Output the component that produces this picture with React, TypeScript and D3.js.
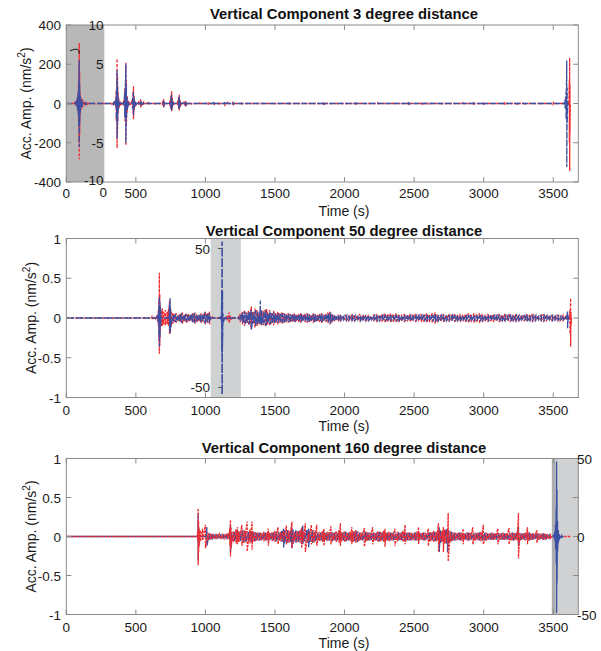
import React from "react";
import * as d3 from "d3";

type S = [number, number, number];
type N = { t0: number; dt: number; a: number[] };

// ---------- shared axis data ----------
const X_TICKS = [0, 500, 1000, 1500, 2000, 2500, 3000, 3500];
const X_MAX = 3680;
const X_LABEL = "Time (s)";
const Y_LABEL = "Acc. Amp. (nm/s";

// ---------- panel 1 : 3 degree ----------
const P1_TITLE = "Vertical Component 3 degree distance";
const P1_Y_DOMAIN: [number, number] = [-400, 400];
const P1_Y_TICKS = [-400, -200, 0, 200, 400];
const P1_INSET_RANGE: [number, number] = [0, 273];
const P1_INSET_DOMAIN: [number, number] = [-10, 10];
const P1_INSET_TICKS = [10, 5, -5, -10];
const P1_RED_SPIKES: S[] = [
  [275, 0, 0], [330, 3, -3], [345, 6, -6], [355, 20, -20], [360, 70, -90], [365, 228, -227], [368, 140, -150],
  [372, 60, -50], [378, 25, -25], [388, 10, -10], [400, 6, -6], [415, 15, -15], [422, 80, -90], [428, 208, -214],
  [432, 120, -110], [437, 40, -45], [445, 15, -15], [460, 8, -8], [475, 20, -20], [480, 60, -55], [483, 88, -80],
  [487, 40, -35], [495, 12, -12], [520, 8, -8], [535, 20, -20], [540, 10, -10], [555, 6, -6], [590, 8, -8],
  [640, 5, -5], [690, 10, -10], [700, 22, -20], [705, 10, -10], [745, 15, -15], [752, 40, -30], [757, 62, -40],
  [762, 30, -25], [770, 10, -10], [800, 15, -12], [808, 35, -30], [812, 45, -35], [817, 20, -20], [825, 8, -8],
  [850, 10, -10], [858, 15, -15], [865, 6, -6], [900, 5, -5], [960, 5, -5], [1020, 6, -6], [1060, 8, -8],
  [1100, 5, -5], [1140, 9, -9], [1160, 5, -5], [1200, 9, -9], [1260, 5, -5], [1320, 4, -4], [1400, 4, -4],
  [1500, 4, -4], [1600, 5, -5], [1700, 4, -4], [1850, 8, -8], [1950, 4, -4], [2080, 6, -6], [2240, 6, -6],
  [2350, 4, -4], [2460, 8, -8], [2560, 6, -6], [2600, 5, -5], [2700, 5, -5], [2850, 6, -6], [2930, 6, -6],
  [3000, 5, -5], [3150, 6, -6], [3240, 8, -8], [3300, 5, -5], [3400, 4, -4], [3500, 3, -3], [3600, 3, -3],
  [3612, 10, -10], [3616, 120, -200], [3618, 233, -344], [3620, 100, -150], [3623, 0, 0],
];
const P1_BLUE_SPIKES: S[] = [
  [275, 0, 0], [340, 3, -3], [355, 15, -15], [360, 60, -80], [365, 170, -180], [369, 90, -100], [374, 30, -30],
  [385, 8, -8], [415, 10, -10], [420, 60, -70], [428, 200, -200], [432, 90, -80], [438, 30, -30], [448, 10, -10],
  [478, 30, -30], [483, 60, -60], [488, 25, -25], [500, 8, -8], [535, 12, -12], [545, 5, -5], [700, 15, -15],
  [710, 4, -4], [752, 30, -25], [757, 45, -35], [762, 20, -20], [808, 25, -25], [812, 35, -30], [817, 15, -15],
  [858, 12, -12], [870, 4, -4], [1060, 6, -6], [1140, 6, -6], [1200, 6, -6], [1850, 6, -6], [2460, 6, -6],
  [3000, 5, -5], [3575, 5, -5], [3585, 20, -25], [3592, 60, -80], [3597, 219, -324], [3600, 80, -100],
  [3604, 10, -10], [3608, 0, 0],
];
const P1_INSET_RED: S[] = [
  [0, 0, 0], [60, 0.2, -0.2], [75, 0.5, -0.5], [83, 1, -1], [88, 2.5, -2.5], [91, 5, -5], [93, 7.7, -7.1],
  [96, 4, -4], [99, 1.5, -1.5], [106, 0.8, -0.8], [118, 0.5, -0.5], [132, 0.3, -0.3], [150, 0.2, -0.2],
  [180, 0, 0], [273, 0, 0],
];
const P1_INSET_BLUE: S[] = [
  [0, 0, 0], [70, 0.3, -0.3], [80, 0.8, -0.8], [86, 1.5, -1.5], [90, 3, -3], [93, 5.5, -5.5], [96, 2.5, -2.5],
  [101, 1, -1], [112, 0.5, -0.5], [140, 0.2, -0.2], [273, 0, 0],
];

// ---------- panel 2 : 50 degree ----------
const P2_TITLE = "Vertical Component 50 degree distance";
const P2_Y_DOMAIN: [number, number] = [-1, 1];
const P2_Y_TICKS = [-1, -0.5, 0, 0.5, 1];
const P2_INSET_RANGE: [number, number] = [1038, 1255];
const P2_INSET_DOMAIN: [number, number] = [-57.2, 57.2];
const P2_INSET_TICKS = [50, -50];
const P2_RED_SPIKES: S[] = [
  [0, 0, 0], [600, 0, 0], [615, 0.02, -0.02], [640, 0.02, -0.02], [655, 0.04, -0.04], [662, 0.1, -0.1],
  [666, 0.25, -0.3], [669, 0.57, -0.45], [672, 0.3, -0.35], [676, 0.15, -0.15], [682, 0.1, -0.1],
  [690, 0.12, -0.1], [700, 0.08, -0.08], [712, 0.1, -0.09], [725, 0.08, -0.08], [735, 0.12, -0.1],
  [742, 0.22, -0.2], [748, 0.15, -0.18], [755, 0.09, -0.09], [765, 0.07, -0.07], [1035, 0.02, -0.02],
  [1050, 0.01, -0.01], [1100, 0.01, -0.01], [1160, 0.03, -0.03], [1171, 0.07, -0.07], [1178, 0.03, -0.03],
  [1200, 0.01, -0.01], [1240, 0.02, -0.02], [1330, 0.15, -0.14], [1440, 0.12, -0.08], [3595, 0.02, -0.02],
  [3615, 0.02, -0.02], [3620, 0.1, -0.2], [3625, 0.25, -0.36], [3628, 0.08, -0.1], [3632, 0, 0],
];
const P2_RED_NOISE: N[] = [
  { t0: 775, dt: 15, a: [0.05, 0.06, 0.04, 0.05, 0.07, 0.04, 0.06, 0.05, 0.04, 0.06, 0.07, 0.05, 0.04, 0.06, 0.05, 0.08, 0.06, 0.08] },
  {
    t0: 1250, dt: 15, a: [
      0.05, 0.08, 0.1, 0.07, 0.09, 0.11, 0.08, 0.12, 0.1, 0.08, 0.1, 0.09, 0.11, 0.08, 0.1, 0.07, 0.09, 0.06, 0.08, 0.06,
      0.07, 0.06, 0.05, 0.06, 0.05, 0.05, 0.06, 0.04, 0.05, 0.06, 0.04, 0.05, 0.06, 0.05, 0.04, 0.06, 0.05, 0.04, 0.05, 0.06,
      0.04, 0.05, 0.07, 0.08, 0.05, 0.04, 0.03, 0.04,
    ],
  },
  {
    t0: 1970, dt: 20, a: [
      0.04, 0.03, 0.04, 0.03, 0.03, 0.04, 0.03, 0.05, 0.03, 0.04, 0.04, 0.03, 0.04, 0.05, 0.04, 0.05, 0.06, 0.05, 0.06, 0.05,
      0.06, 0.05, 0.04, 0.05, 0.04, 0.05, 0.04, 0.05, 0.04, 0.05, 0.05, 0.06, 0.05, 0.06, 0.07, 0.05, 0.04, 0.05, 0.04, 0.05,
      0.04, 0.05, 0.04, 0.05, 0.04, 0.05, 0.06, 0.05, 0.06, 0.05, 0.06, 0.05, 0.04, 0.05, 0.04, 0.05, 0.04, 0.05, 0.04, 0.05,
      0.04, 0.05, 0.04, 0.05, 0.04, 0.03, 0.04, 0.05, 0.04, 0.05, 0.04, 0.03, 0.04, 0.05, 0.04, 0.03, 0.04, 0.03, 0.04, 0.03,
      0.03, 0.02,
    ],
  },
];
const P2_BLUE_SPIKES: S[] = [
  [0, 0, 0], [650, 0, 0], [660, 0.05, -0.05], [666, 0.15, -0.2], [669, 0.26, -0.36], [673, 0.2, -0.25],
  [678, 0.12, -0.1], [742, 0.18, -0.15], [746, 0.25, -0.2], [750, 0.12, -0.12], [1035, 0.02, -0.02],
  [1100, 0.01, -0.01], [1150, 0.02, -0.02], [1240, 0.02, -0.02], [1330, 0.1, -0.15], [1395, 0.22, -0.08],
  [3597, 0.02, -0.02], [3603, 0.09, -0.13], [3607, 0.03, -0.03], [3612, 0, 0],
];
const P2_BLUE_NOISE: N[] = [
  { t0: 770, dt: 15, a: [0.04, 0.05, 0.03, 0.04, 0.06, 0.03, 0.05, 0.04, 0.03, 0.05, 0.06, 0.04, 0.03, 0.05, 0.04, 0.07, 0.05, 0.06] },
  {
    t0: 1255, dt: 15, a: [
      0.04, 0.07, 0.08, 0.06, 0.08, 0.09, 0.07, 0.1, 0.08, 0.06, 0.09, 0.07, 0.1, 0.06, 0.08, 0.06, 0.07, 0.05, 0.06, 0.05,
      0.06, 0.05, 0.04, 0.05, 0.04, 0.04, 0.05, 0.03, 0.04, 0.05, 0.03, 0.04, 0.05, 0.04, 0.03, 0.05, 0.04, 0.03, 0.04, 0.05,
      0.03, 0.04, 0.06, 0.07, 0.04, 0.03, 0.02, 0.03,
    ],
  },
  {
    t0: 1975, dt: 20, a: [
      0.03, 0.02, 0.03, 0.02, 0.03, 0.03, 0.02, 0.03, 0.02, 0.03, 0.03, 0.02, 0.03, 0.04, 0.03, 0.03, 0.04, 0.03, 0.04, 0.03,
      0.04, 0.03, 0.03, 0.04, 0.03, 0.03, 0.02, 0.03, 0.03, 0.03, 0.04, 0.04, 0.03, 0.04, 0.05, 0.03, 0.03, 0.04, 0.03, 0.03,
      0.03, 0.04, 0.03, 0.03, 0.03, 0.04, 0.04, 0.03, 0.04, 0.03, 0.04, 0.03, 0.03, 0.04, 0.03, 0.03, 0.03, 0.04, 0.03, 0.03,
      0.03, 0.04, 0.03, 0.03, 0.03, 0.02, 0.03, 0.04, 0.03, 0.03, 0.03, 0.02, 0.03, 0.03, 0.03, 0.02, 0.03, 0.02, 0.03, 0.02,
      0.02,
    ],
  },
];
const P2_INSET_BLUE: S[] = [
  [1100, 0, 0], [1112, 1, -1], [1116, 3, -3], [1118, 20, -25], [1120, 55, -55], [1122, 20, -20], [1126, 3, -3],
  [1140, 0, 0],
];

// ---------- panel 3 : 160 degree ----------
const P3_TITLE = "Vertical Component 160 degree distance";
const P3_Y_DOMAIN: [number, number] = [-1, 1];
const P3_Y_TICKS = [-1, -0.5, 0, 0.5, 1];
const P3_INSET_RANGE: [number, number] = [3490, 3680];
const P3_INSET_DOMAIN: [number, number] = [-50, 50];
const P3_INSET_TICKS = [50, 0, -50];
const P3_INSET_MINOR = [25, -25];
const P3_RED_SPIKES: S[] = [
  [0, 0, 0], [940, 0, 0], [945, 0.05, -0.05], [948, 0.36, -0.37], [951, 0.2, -0.2], [956, 0.1, -0.12],
  [965, 0.08, -0.06], [980, 0.1, -0.05], [1176, 0.1, -0.12], [1180, 0.21, -0.26], [1184, 0.12, -0.15],
  [1230, 0.12, -0.1], [1262, 0.15, -0.12], [1300, 0.19, -0.19], [1335, 0.19, -0.17], [1452, 0.1, -0.12],
  [1522, 0.12, -0.1], [1582, 0.14, -0.1], [1622, 0.19, -0.15], [1692, 0.12, -0.15], [1718, 0.17, -0.2],
  [1762, 0.15, -0.1], [1800, 0.15, -0.12], [1852, 0.1, -0.12], [1902, 0.13, -0.1], [1970, 0.17, -0.12],
  [2052, 0.12, -0.1], [2142, 0.11, -0.13], [2202, 0.12, -0.1], [2290, 0.1, -0.13], [2362, 0.1, -0.12],
  [2435, 0.15, -0.1], [2532, 0.12, -0.1], [2602, 0.1, -0.12], [2675, 0.17, -0.2], [2710, 0.12, -0.2],
  [2745, 0.3, -0.32], [2852, 0.1, -0.1], [2922, 0.12, -0.1], [2997, 0.15, -0.1], [3102, 0.1, -0.1],
  [3182, 0.11, -0.1], [3250, 0.3, -0.28], [3315, 0.12, -0.1], [3382, 0.08, -0.08], [3490, 0.01, -0.01],
  [3530, 0, 0], [3625, 0, 0],
];
const P3_RED_NOISE: N[] = [
  {
    t0: 1000, dt: 20, a: [
      0.15, 0.05, 0.04, 0.03, 0.02, 0.03, 0.02, 0.02, 0.04, 0.06,
      0.07, 0.09, 0.07, 0.1, 0.08, 0.07, 0.09, 0.07, 0.06, 0.05,
      0.05, 0.06, 0.05, 0.05, 0.06, 0.07, 0.05, 0.06, 0.07, 0.06,
      0.08, 0.07, 0.06, 0.07, 0.08, 0.07, 0.08, 0.06, 0.07, 0.08,
      0.07, 0.06, 0.07, 0.05, 0.06, 0.07, 0.05, 0.07, 0.08, 0.06,
      0.07, 0.05, 0.06, 0.07, 0.08, 0.06, 0.05, 0.07, 0.06, 0.05,
      0.06, 0.05, 0.07, 0.06, 0.07, 0.05, 0.06, 0.05, 0.05, 0.06,
      0.05, 0.07, 0.06, 0.05, 0.05, 0.05, 0.06, 0.05, 0.05, 0.05,
      0.05, 0.06, 0.07, 0.06, 0.08, 0.07, 0.09, 0.08, 0.07, 0.05,
      0.05, 0.05, 0.05, 0.04, 0.05, 0.05, 0.04, 0.05, 0.05, 0.06,
      0.05, 0.05, 0.04, 0.05, 0.04, 0.05, 0.04, 0.05, 0.04, 0.05,
      0.05, 0.05, 0.05, 0.05, 0.04, 0.05, 0.05, 0.04, 0.04, 0.04,
      0.04, 0.04, 0.04, 0.03, 0.02,
    ],
  },
];
const P3_BLUE_SPIKES: S[] = [
  [0, 0, 0], [942, 0, 0], [945, 0.05, -0.05], [948, 0.3, -0.3], [952, 0.12, -0.12], [1180, 0.15, -0.2],
  [1562, 0.1, -0.14], [1620, 0.12, -0.15], [1700, 0.14, -0.1], [1742, 0.1, -0.14], [2680, 0.12, -0.2],
  [2740, 0.1, -0.2], [3250, 0.12, -0.12], [3490, 0, 0],
];
const P3_BLUE_NOISE: N[] = [
  {
    t0: 1010, dt: 20, a: [
      0.12, 0.04, 0.03, 0.02, 0.02, 0.02, 0.02, 0.02, 0.03, 0.05,
      0.06, 0.07, 0.06, 0.08, 0.07, 0.06, 0.07, 0.06, 0.05, 0.05,
      0.04, 0.05, 0.05, 0.04, 0.05, 0.06, 0.05, 0.07, 0.08, 0.08,
      0.07, 0.09, 0.08, 0.07, 0.09, 0.06, 0.08, 0.07, 0.08, 0.06,
      0.05, 0.05, 0.06, 0.05, 0.05, 0.06, 0.05, 0.05, 0.06, 0.05,
      0.06, 0.05, 0.05, 0.06, 0.07, 0.05, 0.05, 0.06, 0.05, 0.05,
      0.05, 0.05, 0.06, 0.05, 0.06, 0.05, 0.05, 0.05, 0.04, 0.05,
      0.05, 0.06, 0.05, 0.05, 0.04, 0.05, 0.05, 0.04, 0.05, 0.04,
      0.05, 0.05, 0.06, 0.05, 0.08, 0.07, 0.09, 0.08, 0.06, 0.05,
      0.04, 0.05, 0.04, 0.04, 0.05, 0.04, 0.04, 0.04, 0.05, 0.05,
      0.05, 0.04, 0.04, 0.04, 0.04, 0.04, 0.04, 0.04, 0.04, 0.04,
      0.05, 0.04, 0.05, 0.04, 0.04, 0.04, 0.05, 0.04, 0.03, 0.04,
      0.03, 0.04, 0.03, 0.02, 0.02,
    ],
  },
];
const P3_INSET_BLUE: S[] = [
  [3495, 0, 0], [3505, 1, -1], [3512, 3, -3], [3517, 8, -8], [3521, 18, -18], [3524, 48, -49], [3527, 30, -30],
  [3531, 10, -10], [3537, 4, -4], [3545, 1.5, -1.5], [3560, 0.5, -0.5], [3575, 0, 0],
];

// ---------- helpers ----------
function buildTrace(spikes: S[], noise: N[] = []): S[] {
  const fromNoise: S[] = [];
  noise.forEach((seg) =>
    seg.a.forEach((v, i) => {
      const t = seg.t0 + i * seg.dt;
      fromNoise.push([t, v, -v]);
    })
  );
  const filtered = fromNoise.filter((n) => !spikes.some((s) => Math.abs(s[0] - n[0]) < 5));
  return [...spikes, ...filtered].sort((a, b) => a[0] - b[0]);
}

// zig-zag through each sample's extremes; return to the zero line across wide gaps
function tracePoints(tr: S[]): [number, number][] {
  const out: [number, number][] = [];
  tr.forEach(([t, hi, lo], i) => {
    if (hi === lo) out.push([t, hi]);
    else {
      out.push([t, hi]);
      out.push([t, lo]);
    }
    const nx = tr[i + 1];
    if (nx && nx[0] - t > 25 && (hi !== 0 || lo !== 0 || nx[1] !== 0)) {
      out.push([t + 3, 0]);
      out.push([nx[0] - 3, 0]);
    }
  });
  return out;
}

const RED = "#ef2b30";
const BLUE = "#3b4fa3";
const FRAME = "#8a8a8a";
const FONT = "'Liberation Sans', Arial, Helvetica, sans-serif";

type PanelCfg = {
  title: string;
  top: number;
  bottom: number;
  titleY: number;
  tickY: number;
  labelY: number;
  ylabelX: number;
  yDom: [number, number];
  yTicks: number[];
  red: S[];
  blue: S[];
  redDash: string;
  blueDash?: string;
  redOnTop: boolean;
  insetRange: [number, number];
  insetDom: [number, number];
  insetFill: string;
  insetRed?: S[];
  insetBlue?: S[];
  insetBlueDash?: string;
  kind: number;
};

const X0 = 66.3;
const X1 = 578.3;
const CX = 344;

function Panel({ cfg, id }: { cfg: PanelCfg; id: string }) {
  const x = d3.scaleLinear().domain([0, X_MAX]).range([X0, X1]);
  const y = d3.scaleLinear().domain(cfg.yDom).range([cfg.bottom, cfg.top]);
  const yi = d3.scaleLinear().domain(cfg.insetDom).range([cfg.bottom, cfg.top]);
  const mkLine = (ys: d3.ScaleLinear<number, number>) =>
    d3
      .line<[number, number]>()
      .x((d) => x(d[0]))
      .y((d) => ys(d[1]));
  const redPath = mkLine(y)(tracePoints(cfg.red)) || "";
  const bluePath = mkLine(y)(tracePoints(cfg.blue)) || "";
  const ix0 = x(cfg.insetRange[0]);
  const ix1 = x(cfg.insetRange[1]);
  const fmt = (v: number) => (v < 0 ? "-" + String(Math.abs(v)) : String(v));

  const redEl = <path d={redPath} fill="none" stroke={RED} strokeWidth={1.3} strokeDasharray={cfg.redDash} />;
  const blueEl = <path d={bluePath} fill="none" stroke={BLUE} strokeWidth={1.3} strokeDasharray={cfg.blueDash} />;

  return (
    <g>
      <defs>
        <clipPath id={id}>
          <rect x={X0} y={cfg.top} width={X1 - X0} height={cfg.bottom - cfg.top} />
        </clipPath>
      </defs>
      <rect x={ix0} y={cfg.top} width={ix1 - ix0} height={cfg.bottom - cfg.top} fill={cfg.insetFill} />
      {cfg.kind === 3 && <rect x={ix0} y={cfg.top} width={3.5} height={cfg.bottom - cfg.top} fill="#adadad" />}
      <g clipPath={`url(#${id})`}>
        {cfg.redOnTop ? blueEl : redEl}
        {cfg.redOnTop ? redEl : blueEl}
        {cfg.insetRed && (
          <path d={mkLine(yi)(tracePoints(cfg.insetRed)) || ""} fill="none" stroke={RED} strokeWidth={1.3} strokeDasharray="3,1.5" />
        )}
        {cfg.insetBlue && (
          <path
            d={mkLine(yi)(tracePoints(cfg.insetBlue)) || ""}
            fill="none"
            stroke={BLUE}
            strokeWidth={cfg.kind === 2 ? 1.6 : 1.3}
            strokeDasharray={cfg.insetBlueDash}
          />
        )}
      </g>
      {/* frame */}
      <rect x={X0} y={cfg.top} width={X1 - X0} height={cfg.bottom - cfg.top} fill="none" stroke={FRAME} strokeWidth={1} />
      {X_TICKS.map((t) => (
        <g key={"xt" + t}>
          <line x1={x(t)} x2={x(t)} y1={cfg.bottom} y2={cfg.bottom - 5} stroke={FRAME} />
          <line x1={x(t)} x2={x(t)} y1={cfg.top} y2={cfg.top + 5} stroke={FRAME} />
          <text x={x(t)} y={cfg.tickY} textAnchor="middle" fontSize={13.5} fill="#1a1a1a">
            {t}
          </text>
        </g>
      ))}
      {cfg.yTicks.map((v) => (
        <g key={"yt" + v}>
          <line x1={X0} x2={X0 + 5} y1={y(v)} y2={y(v)} stroke={FRAME} />
          <line x1={X1} x2={X1 - 5} y1={y(v)} y2={y(v)} stroke={FRAME} />
          <text x={61} y={y(v) + 5} textAnchor="end" fontSize={13.5} fill="#1a1a1a">
            {fmt(v)}
          </text>
        </g>
      ))}
      {/* inset axes */}
      {cfg.kind === 1 &&
        P1_INSET_TICKS.map((v) => (
          <text key={"it" + v} x={103.5} y={yi(v) + (v === -10 ? 2.5 : 5)} textAnchor="end" fontSize={13.5} fill="#1a1a1a">
            {fmt(v)}
          </text>
        ))}
      {cfg.kind === 1 && (
        <text x={ix1 - 1} y={cfg.tickY - 1} textAnchor="middle" fontSize={13.5} fill="#1a1a1a">
          0
        </text>
      )}
      {cfg.kind === 1 && (
        <path d="M70,50.8 Q75,48.4 77.6,49.4 Q79.4,50.4 79.3,53.6" fill="none" stroke="#111" strokeWidth={1} />
      )}
      {cfg.kind === 2 &&
        P2_INSET_TICKS.map((v) => (
          <g key={"it" + v}>
            <line x1={218} x2={222.5} y1={yi(v)} y2={yi(v)} stroke="#555" />
            <text x={210} y={yi(v) + 5} textAnchor="end" fontSize={13.5} fill="#1a1a1a">
              {fmt(v)}
            </text>
          </g>
        ))}
      {cfg.kind === 3 && (
        <g>
          {[...P3_INSET_TICKS, ...P3_INSET_MINOR].map((v) => (
            <line key={"im" + v} x1={X1} x2={X1 - 5} y1={yi(v)} y2={yi(v)} stroke={FRAME} />
          ))}
          {P3_INSET_TICKS.map((v) => (
            <text key={"il" + v} x={577} y={yi(v) + 5} textAnchor="start" fontSize={13.5} fill="#1a1a1a">
              {fmt(v)}
            </text>
          ))}
        </g>
      )}
      {/* titles and labels */}
      <text x={CX} y={cfg.titleY} textAnchor="middle" fontSize={14.8} fontWeight="bold" fill="#111">
        {cfg.title}
      </text>
      <text x={CX} y={cfg.labelY} textAnchor="middle" fontSize={14} fill="#1a1a1a">
        {X_LABEL}
      </text>
      <text
        transform={`translate(${cfg.ylabelX},${(cfg.top + cfg.bottom) / 2}) rotate(-90)`}
        textAnchor="middle"
        fontSize={14}
        fill="#1a1a1a"
      >
        {Y_LABEL}
        <tspan dy={-6} fontSize={10}>
          2
        </tspan>
        <tspan dy={6}>)</tspan>
      </text>
    </g>
  );
}

export default function App() {
  const panels: PanelCfg[] = [
    {
      title: P1_TITLE, top: 25, bottom: 182, titleY: 19, tickY: 198, labelY: 216, ylabelX: 31,
      yDom: P1_Y_DOMAIN, yTicks: P1_Y_TICKS, red: buildTrace(P1_RED_SPIKES), blue: buildTrace(P1_BLUE_SPIKES),
      redDash: "3,1.5", blueDash: "6,2", redOnTop: false, insetRange: P1_INSET_RANGE, insetDom: P1_INSET_DOMAIN,
      insetFill: "#b8b8b8", insetRed: P1_INSET_RED, insetBlue: P1_INSET_BLUE, insetBlueDash: "6,2", kind: 1,
    },
    {
      title: P2_TITLE, top: 238.5, bottom: 397.5, titleY: 236, tickY: 415, labelY: 431, ylabelX: 36,
      yDom: P2_Y_DOMAIN, yTicks: P2_Y_TICKS, red: buildTrace(P2_RED_SPIKES, P2_RED_NOISE),
      blue: buildTrace(P2_BLUE_SPIKES, P2_BLUE_NOISE), redDash: "3,1.5", blueDash: "8,1.5", redOnTop: false,
      insetRange: P2_INSET_RANGE, insetDom: P2_INSET_DOMAIN, insetFill: "#d0d1d3", insetBlue: P2_INSET_BLUE,
      insetBlueDash: "5,2,1.5,2", kind: 2,
    },
    {
      title: P3_TITLE, top: 458.5, bottom: 614.5, titleY: 453, tickY: 632, labelY: 648, ylabelX: 36,
      yDom: P3_Y_DOMAIN, yTicks: P3_Y_TICKS, red: buildTrace(P3_RED_SPIKES, P3_RED_NOISE),
      blue: buildTrace(P3_BLUE_SPIKES, P3_BLUE_NOISE), redDash: "2.5,1", redOnTop: true,
      insetRange: P3_INSET_RANGE, insetDom: P3_INSET_DOMAIN, insetFill: "#d0d1d3", insetBlue: P3_INSET_BLUE, kind: 3,
    },
  ];
  return (
    <svg width={601} height={651} style={{ position: "absolute", left: 0, top: 0, background: "#fff" }} fontFamily={FONT}>
      <rect width={601} height={651} fill="#fff" />
      {panels.map((p, i) => (
        <Panel key={i} cfg={p} id={"clip" + i} />
      ))}
    </svg>
  );
}
